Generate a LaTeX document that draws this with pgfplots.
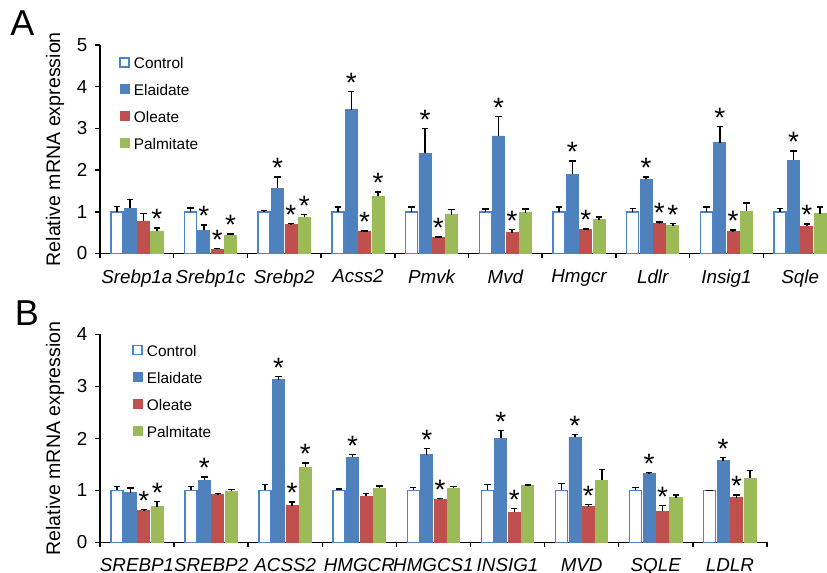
\documentclass[border=0pt]{standalone}
\usepackage{pgfplots}
\pgfplotsset{compat=1.18}
\usepackage{pgfplotstable}
\usepackage{fontspec}
\setmainfont{Liberation Sans}
\definecolor{cblue}{HTML}{4F81BD}
\definecolor{cbord}{HTML}{4A84CC}
\definecolor{cred}{HTML}{C0504D}
\definecolor{cgreen}{HTML}{9BBB59}

% Panel A data: g = gene index, v = mean, e = error, s = significance star
\pgfplotstableread{
g v e s
0 1.00 0.13 0
1 1.00 0.09 0
2 1.00 0.03 0
3 1.00 0.11 0
4 1.00 0.11 0
5 1.00 0.07 0
6 1.00 0.11 0
7 1.00 0.08 0
8 1.00 0.11 0
9 1.00 0.08 0
}\Actrl
\pgfplotstableread{
g v e s
0 1.08 0.22 0
1 0.56 0.12 1
2 1.57 0.27 1
3 3.45 0.43 1
4 2.40 0.60 1
5 2.82 0.46 1
6 1.90 0.32 1
7 1.78 0.05 1
8 2.66 0.38 1
9 2.24 0.22 1
}\Aela
\pgfplotstableread{
g v e s
0 0.78 0.18 0
1 0.10 0.02 1
2 0.69 0.03 1
3 0.52 0.02 1
4 0.38 0.02 1
5 0.50 0.08 1
6 0.57 0.02 1
7 0.71 0.05 1
8 0.52 0.04 1
9 0.65 0.06 1
}\Aole
\pgfplotstableread{
g v e s
0 0.54 0.07 1
1 0.44 0.03 1
2 0.87 0.07 1
3 1.37 0.10 1
4 0.93 0.12 0
5 0.98 0.09 0
6 0.81 0.07 0
7 0.67 0.05 1
8 1.02 0.19 0
9 0.95 0.17 0
}\Apal

% Panel B data
\pgfplotstableread{
g v e s
0 1.00 0.08 0
1 1.00 0.08 0
2 1.00 0.12 0
3 1.00 0.03 0
4 1.00 0.06 0
5 1.00 0.12 0
6 1.00 0.13 0
7 1.00 0.06 0
8 1.00 0.00 0
}\Bctrl
\pgfplotstableread{
g v e s
0 0.955 0.09 0
1 1.20 0.06 1
2 3.13 0.06 1
3 1.635 0.06 1
4 1.69 0.12 1
5 2.00 0.15 1
6 2.03 0.05 1
7 1.32 0.03 1
8 1.57 0.06 1
}\Bela
\pgfplotstableread{
g v e s
0 0.615 0.02 1
1 0.92 0.02 0
2 0.705 0.07 1
3 0.885 0.06 0
4 0.83 0.02 1
5 0.58 0.07 1
6 0.69 0.04 1
7 0.60 0.11 1
8 0.865 0.05 1
}\Bole
\pgfplotstableread{
g v e s
0 0.69 0.10 1
1 0.99 0.03 0
2 1.45 0.08 1
3 1.045 0.04 0
4 1.045 0.03 0
5 1.10 0.01 0
6 1.20 0.20 0
7 0.865 0.05 0
8 1.24 0.14 0
}\Bpal

\pgfplotsset{
  sq/.style={legend image code/.code={\draw[##1] (0pt,-2pt) rectangle (4.5pt,2.5pt);}},
  mybar/.style={ybar, bar width=0.163, bar shift=0pt, sq,
    error bars/y dir=plus, error bars/y explicit,
    error bars/error bar style={black, line width=0.75pt},
    error bars/error mark options={black, rotate=90, mark size=1.6pt, line width=0.75pt}},
  stars/.style={only marks, mark=none, forget plot,
    nodes near coords={\fontsize{14}{14}\selectfont *},
    every node near coord/.append style={anchor=base, inner sep=0pt, yshift=-0.4pt}},
  common/.style={
    axis x line*=bottom, axis y line*=left,
    axis line style={black, line width=0.75pt},
    tick style={black, line width=0.75pt},
    tick align=outside, major tick length=2.5pt,
    x tick label as interval,
    ymin=0,
    /pgf/number format/assume math mode=true,
    yticklabel style={font=\fontsize{9.4}{10}\selectfont, xshift=-0.3pt},
    xticklabel style={font=\fontsize{9.4}{10}\selectfont\itshape, yshift=-2pt},
    ylabel={Relative mRNA expression},
    ylabel style={at={([xshift=-22.5pt]axis description cs:0,0.5)}, anchor=center,
      font=\fontsize{9.8}{10}\selectfont},
    legend cell align=left,
    clip=false,
  },
  leg/.style={legend style={at={#1}, anchor=north west, draw=none, fill=none,
    font=\fontsize{7.7}{8}\selectfont, row sep=6.4pt, column sep=1.5pt, inner sep=0pt,
    nodes={inner sep=0.5pt, text height=6pt, text depth=0pt, font=\fontsize{7.7}{8}\selectfont}}},
}

\begin{document}
\begin{tikzpicture}
% Panel A
\begin{axis}[common,
  at={(50pt,159.75pt)}, anchor=south west,
  x=36.85pt, y=20.85pt,
  xmin=-0.5, xmax=9.5, ymax=5,
  ytick={0,1,2,3,4,5},
  xtick={-0.5,0.5,...,9.5},
  xticklabels={Srebp1a,Srebp1c,Srebp2,Acss2,Pmvk,Mvd,Hmgcr,Ldlr,Insig1,Sqle},
  leg={(axis cs:-0.242,4.75)},
]
\addplot[mybar, fill=white, draw=cbord, line width=0.75pt] table[x expr=\thisrow{g}-0.272, y=v, y error=e] {\Actrl};
\addplot[mybar, fill=cblue, draw=cblue, line width=0.4pt] table[x expr=\thisrow{g}-0.0905, y=v, y error=e] {\Aela};
\addplot[mybar, fill=cred, draw=cred, line width=0.4pt] table[x expr=\thisrow{g}+0.0905, y=v, y error=e] {\Aole};
\addplot[mybar, fill=cgreen, draw=cgreen, line width=0.4pt] table[x expr=\thisrow{g}+0.272, y=v, y error=e] {\Apal};
\legend{Control,Elaidate,Oleate,Palmitate}
\addplot[stars] table[x expr=\thisrow{g}-0.0905, y expr={\thisrow{s}>0 ? \thisrow{v}+\thisrow{e} : nan}] {\Aela};
\addplot[stars] table[x expr=\thisrow{g}+0.0905, y expr={\thisrow{s}>0 ? \thisrow{v}+\thisrow{e} : nan}] {\Aole};
\addplot[stars] table[x expr=\thisrow{g}+0.272, y expr={\thisrow{s}>0 ? \thisrow{v}+\thisrow{e} : nan}] {\Apal};
\end{axis}
% Panel B
\begin{axis}[common,
  at={(50pt,15.25pt)}, anchor=south west,
  x=37.05pt, y=26pt,
  xmin=-0.5, xmax=8.5, ymax=4,
  ytick={0,1,2,3,4},
  xtick={-0.5,0.5,...,8.5},
  xticklabels={SREBP1,SREBP2,ACSS2,HMGCR,HMGCS1,INSIG1,MVD,SQLE,LDLR},
  leg={(axis cs:-0.068,3.83)},
]
\addplot[mybar, fill=white, draw=cbord, line width=0.75pt] table[x expr=\thisrow{g}-0.272, y=v, y error=e] {\Bctrl};
\addplot[mybar, fill=cblue, draw=cblue, line width=0.4pt] table[x expr=\thisrow{g}-0.0905, y=v, y error=e] {\Bela};
\addplot[mybar, fill=cred, draw=cred, line width=0.4pt] table[x expr=\thisrow{g}+0.0905, y=v, y error=e] {\Bole};
\addplot[mybar, fill=cgreen, draw=cgreen, line width=0.4pt] table[x expr=\thisrow{g}+0.272, y=v, y error=e] {\Bpal};
\legend{Control,Elaidate,Oleate,Palmitate}
\addplot[stars] table[x expr=\thisrow{g}-0.0905, y expr={\thisrow{s}>0 ? \thisrow{v}+\thisrow{e} : nan}] {\Bela};
\addplot[stars] table[x expr=\thisrow{g}+0.0905, y expr={\thisrow{s}>0 ? \thisrow{v}+\thisrow{e} : nan}] {\Bole};
\addplot[stars] table[x expr=\thisrow{g}+0.272, y expr={\thisrow{s}>0 ? \thisrow{v}+\thisrow{e} : nan}] {\Bpal};
\end{axis}
\node[font=\fontsize{18}{18}\selectfont, anchor=center] at (11.25pt,274.75pt) {A};
\node[font=\fontsize{18}{18}\selectfont, anchor=center] at (13.5pt,130pt) {B};
\pgfresetboundingbox
\useasboundingbox (0,0) rectangle (413.5pt,286.5pt);
\end{tikzpicture}
\end{document}
